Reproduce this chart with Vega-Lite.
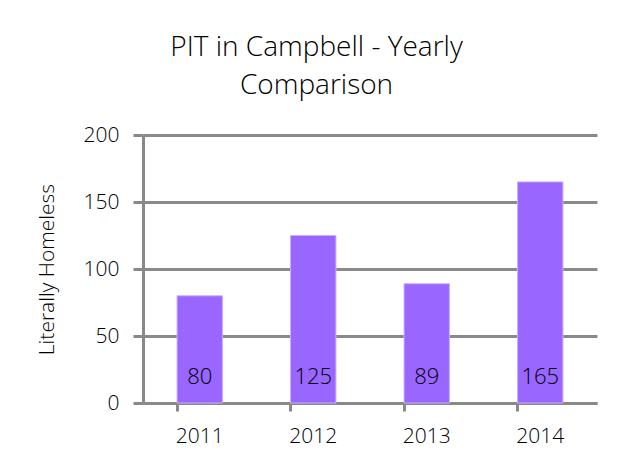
{
  "$schema": "https://vega.github.io/schema/vega-lite/v6.json",
  "width": 454,
  "height": 268,
  "autosize": {"type": "none"},
  "padding": {"left": 143, "top": 135, "right": 32, "bottom": 67},
  "background": "white",
  "title": {
    "text": ["PIT in Campbell - Yearly", "Comparison"],
    "font": "Open Sans",
    "fontSize": 28,
    "fontWeight": 300,
    "color": "#000000",
    "lineHeight": 38,
    "anchor": "middle",
    "frame": "bounds",
    "offset": 24
  },
  "data": {
    "values": [
      {"year": "2011", "count": 80},
      {"year": "2012", "count": 125},
      {"year": "2013", "count": 89},
      {"year": "2014", "count": 165}
    ]
  },
  "encoding": {
    "x": {
      "field": "year",
      "type": "ordinal",
      "scale": {"paddingInner": 0.6, "paddingOuter": 0.3},
      "axis": {
        "title": null,
        "labelAngle": 0,
        "labelFont": "Open Sans",
        "labelFontSize": 21,
        "labelFontWeight": 300,
        "labelColor": "#000000",
        "labelPadding": 14,
        "bandPosition": 0,
        "tickSize": 8,
        "tickWidth": 3,
        "tickColor": "#898989",
        "domainColor": "#898989",
        "domainWidth": 3
      }
    }
  },
  "layer": [
    {
      "mark": {"type": "bar", "color": "#9966FF", "stroke": "#C9B0FF", "strokeWidth": 1},
      "encoding": {
        "y": {
          "field": "count",
          "type": "quantitative",
          "scale": {"domain": [0, 200]},
          "axis": {
            "title": "Literally Homeless",
            "titleFont": "Open Sans",
            "titleFontSize": 21,
            "titleFontWeight": 300,
            "titleColor": "#000000",
            "titlePadding": 26,
            "values": [0, 50, 100, 150, 200],
            "labelFont": "Open Sans",
            "labelFontSize": 21,
            "labelFontWeight": 300,
            "labelColor": "#000000",
            "labelPadding": 14,
            "tickSize": 10,
            "tickWidth": 3,
            "tickColor": "#898989",
            "grid": true,
            "gridColor": "#898989",
            "gridWidth": 3,
            "domainColor": "#898989",
            "domainWidth": 3
          }
        }
      }
    },
    {
      "mark": {"type": "text", "font": "Open Sans", "fontSize": 22, "fontWeight": 300, "color": "#000000", "baseline": "middle", "dy": -26},
      "encoding": {
        "y": {"datum": 0, "type": "quantitative"},
        "text": {"field": "count", "type": "quantitative"}
      }
    }
  ],
  "config": {
    "view": {"stroke": null}
  }
}
